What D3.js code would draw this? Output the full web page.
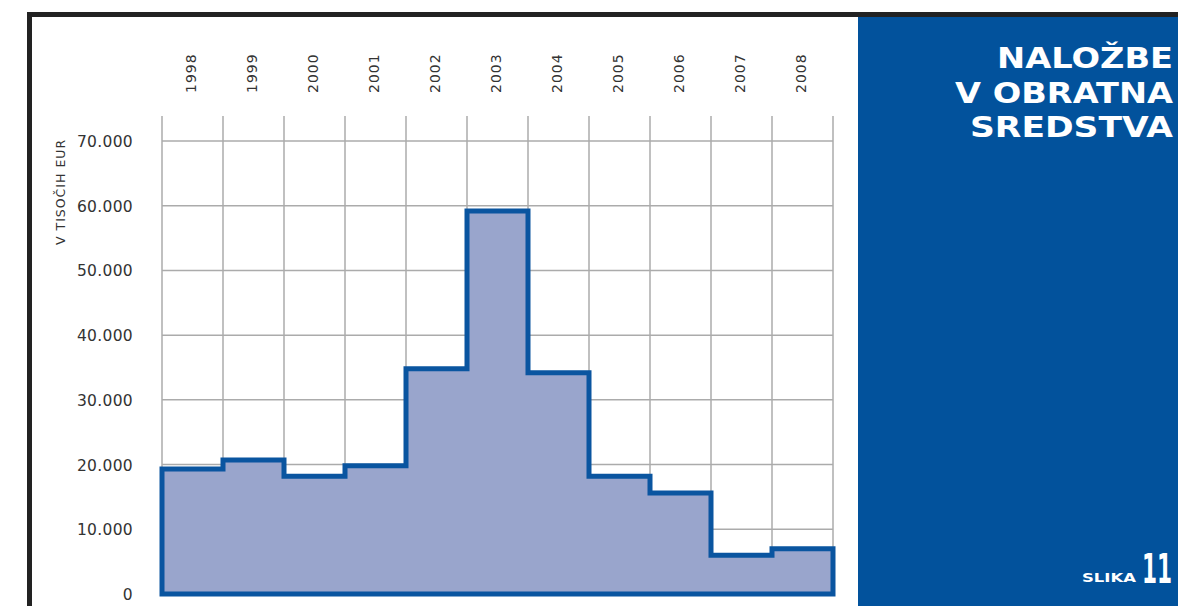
<!DOCTYPE html>
<html>
<head>
<meta charset="utf-8">
<script src="https://cdn.jsdelivr.net/npm/d3@7"></script>
<style>
  html, body { margin: 0; padding: 0; background: #fff; }
  svg { display: block; }
  .tick-label { font-family: "DejaVu Sans", sans-serif; font-size: 15.5px; fill: #333; letter-spacing: 0.3px; }
  .year-label { font-family: "DejaVu Sans", sans-serif; font-size: 14px; fill: #333; letter-spacing: 1px; }
  .axis-title { font-family: "DejaVu Sans", sans-serif; font-size: 12.5px; fill: #333; letter-spacing: 1px; }
  .title { font-family: "DejaVu Sans", sans-serif; font-weight: bold; font-size: 29px; fill: #fff; text-transform: uppercase; }
</style>
</head>
<body>
<svg id="chart" width="1178" height="606"></svg>
<script>
var years = ["1998","1999","2000","2001","2002","2003","2004","2005","2006","2007","2008"];
var values = [19300, 20700, 18200, 19800, 34800, 59200, 34200, 18200, 15600, 6000, 7000];
var yTicks = [0, 10000, 20000, 30000, 40000, 50000, 60000, 70000];
var titleLines = ["naložbe", "v obratna", "sredstva"];

var svg = d3.select("#chart");
var fmt = function(d){ return d3.format(",")(d).replace(/,/g, "."); };

var x = d3.scaleBand().domain(years).range([162, 833]).padding(0);
var y = d3.scaleLinear().domain([0, 70000]).range([594, 141]);

// frame
svg.append("rect").attr("x", 27).attr("y", 12).attr("width", 1151).attr("height", 5).attr("fill", "#222");
svg.append("rect").attr("x", 27).attr("y", 12).attr("width", 5).attr("height", 594).attr("fill", "#222");

// grid
var grid = svg.append("g").attr("stroke", "#ababab").attr("stroke-width", 1.5);
var xs = years.map(function(d){ return x(d); }).concat([x.range()[1]]);
grid.selectAll("line.v").data(xs).enter().append("line")
  .attr("x1", d => d).attr("x2", d => d).attr("y1", 116).attr("y2", y(0));
grid.selectAll("line.h").data(yTicks).enter().append("line")
  .attr("x1", x.range()[0]).attr("x2", x.range()[1]).attr("y1", d => y(d)).attr("y2", d => y(d));

// step area
var pts = [[x(years[0]), y(0)]];
years.forEach(function(yr, i){
  pts.push([x(yr), y(values[i])]);
  pts.push([x(yr) + x.bandwidth(), y(values[i])]);
});
pts.push([x.range()[1], y(0)]);
svg.append("path")
  .attr("d", d3.line()(pts) + "Z")
  .attr("fill", "#99a5cc")
  .attr("stroke", "#0a55a0")
  .attr("stroke-width", 5)
  .attr("stroke-linejoin", "miter");

// y tick labels
svg.selectAll("text.tick-label").data(yTicks).enter().append("text")
  .attr("class", "tick-label")
  .attr("x", 133).attr("y", d => y(d) + 6)
  .attr("text-anchor", "end")
  .text(fmt);

// year labels
svg.selectAll("text.year-label").data(years).enter().append("text")
  .attr("class", "year-label")
  .attr("transform", d => "translate(" + (x(d) + x.bandwidth() / 2 + 3) + ",93) rotate(-90)")
  .text(d => d);

svg.append("text").attr("class", "axis-title")
  .attr("transform", "translate(65,245) rotate(-90)")
  .text("V TISOČIH EUR");

// right panel
svg.append("rect").attr("x", 858).attr("y", 17).attr("width", 320).attr("height", 589).attr("fill", "#02529c");
var widths = [176, 218, 203];
svg.selectAll("text.title").data(titleLines).enter().append("text")
  .attr("class", "title")
  .attr("x", 1173).attr("y", (d, i) => 68 + i * 34.5)
  .attr("text-anchor", "end")
  .attr("textLength", (d, i) => widths[i])
  .attr("lengthAdjust", "spacingAndGlyphs")
  .text(d => d);

svg.append("text")
  .attr("x", 1082).attr("y", 582)
  .attr("textLength", 54).attr("lengthAdjust", "spacingAndGlyphs")
  .style("font-family", "DejaVu Sans").style("font-weight", "bold").style("font-size", "13px")
  .style("text-transform", "uppercase").attr("fill", "#fff")
  .text("slika");
svg.append("text")
  .attr("transform", "translate(1142,583) scale(0.54,1)")
  .style("font-family", "DejaVu Sans").style("font-weight", "bold").style("font-size", "40px")
  .attr("fill", "#fff")
  .text("11");
</script>
</body>
</html>
